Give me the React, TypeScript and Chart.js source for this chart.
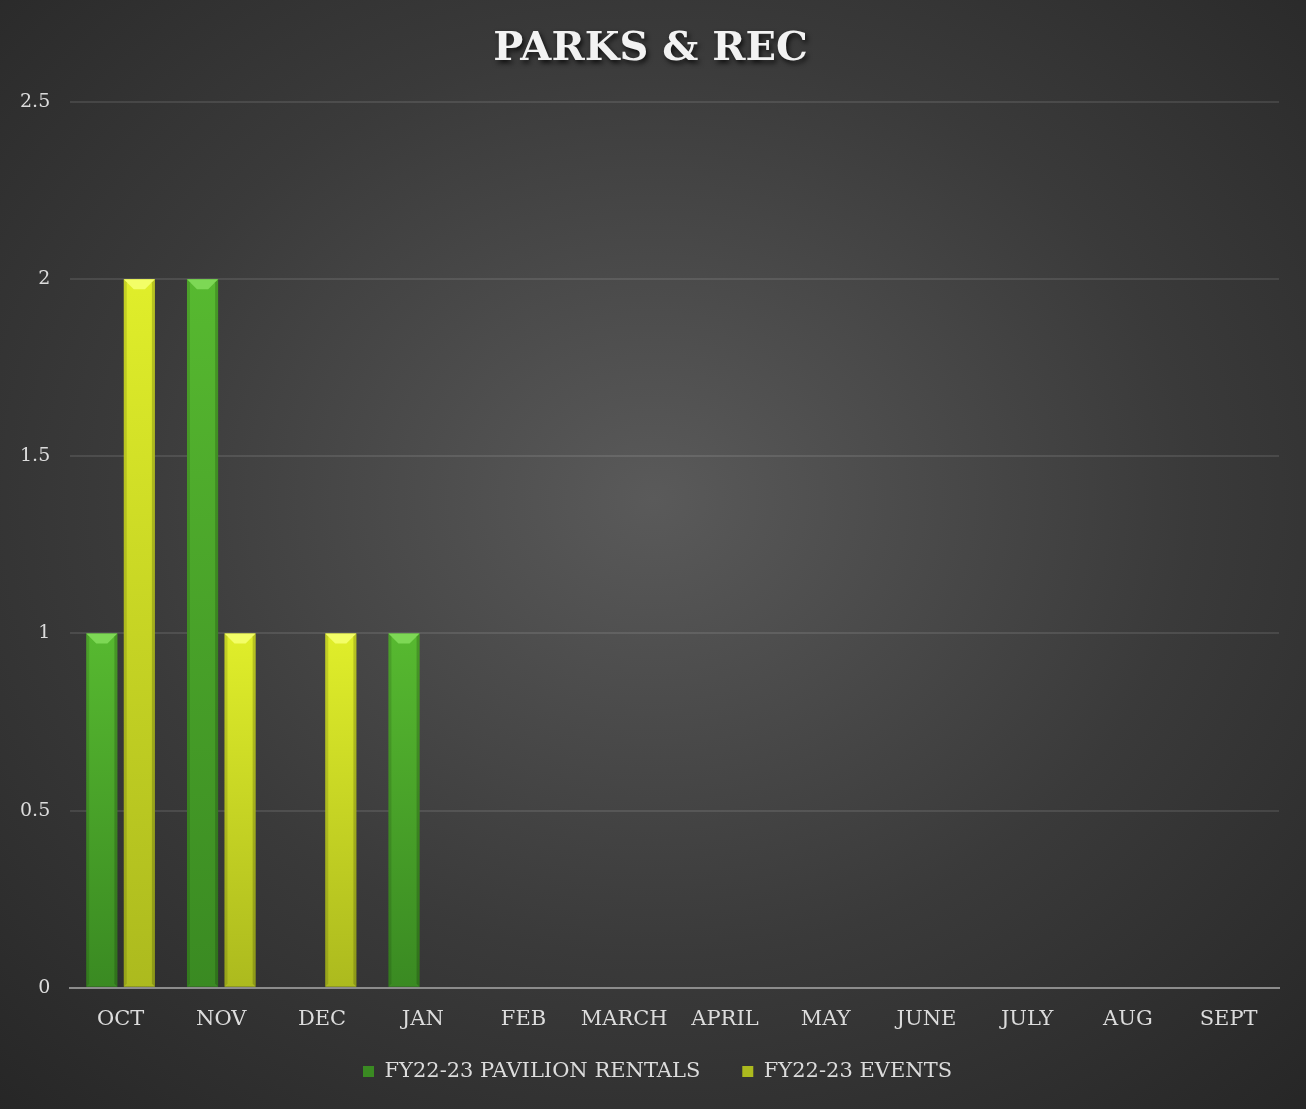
import React, { useEffect, useRef } from "react";
import { Chart, registerables } from "chart.js";

Chart.register(...registerables);

const categories = ["OCT", "NOV", "DEC", "JAN", "FEB", "MARCH", "APRIL", "MAY", "JUNE", "JULY", "AUG", "SEPT"];
const pavilionRentals = [1, 2, 0, 1, 0, 0, 0, 0, 0, 0, 0, 0];
const events = [2, 1, 1, 0, 0, 0, 0, 0, 0, 0, 0, 0];
const seriesNames = ["FY22-23 PAVILION RENTALS", "FY22-23 EVENTS"];

const FONT = "'DejaVu Serif', 'Liberation Serif', serif";

const bevelPlugin = {
  id: "bevel",
  afterInit(chart: any) {
    const tb = chart.titleBlock;
    if (tb && !tb.__shadowed) {
      const orig = tb.draw.bind(tb);
      tb.draw = (...args: any[]) => {
        const ctx = chart.ctx;
        ctx.save();
        ctx.shadowColor = "rgba(0,0,0,0.75)";
        ctx.shadowBlur = 5;
        ctx.shadowOffsetX = 2;
        ctx.shadowOffsetY = 3;
        orig(...args);
        ctx.restore();
      };
      tb.__shadowed = true;
    }
  },
  beforeDraw(chart: any) {
    // let the x tick labels draw below the shortened axis box
    const xs = chart.scales.x;
    if (xs) xs.bottom = xs.top + 60;
    // centre title and legend on the full canvas width
    const tb = chart.titleBlock;
    if (tb) {
      tb.left += 11;
      tb.right += 11;
    }
    const lg = chart.legend;
    if (lg) {
      lg.left += 18;
      lg.right += 18;
    }
  },
  afterDatasetsDraw(chart: any) {
    const ctx = chart.ctx;
    const tops = ["rgba(130,220,90,0.9)", "rgba(245,255,110,0.9)"];
    chart.data.datasets.forEach((_: any, di: number) => {
      const meta = chart.getDatasetMeta(di);
      meta.data.forEach((bar: any) => {
        const { x, y, base, width } = bar.getProps(["x", "y", "base", "width"], true);
        const h = base - y;
        if (h < 2) return;
        const l = x - width / 2;
        const r = x + width / 2;
        const d = Math.min(10, width / 3);
        ctx.save();
        ctx.fillStyle = tops[di];
        ctx.beginPath();
        ctx.moveTo(l, y);
        ctx.lineTo(r, y);
        ctx.lineTo(r - d, y + d);
        ctx.lineTo(l + d, y + d);
        ctx.closePath();
        ctx.fill();
        ctx.fillStyle = "rgba(0,0,0,0.18)";
        ctx.beginPath();
        ctx.moveTo(r, y);
        ctx.lineTo(r, base);
        ctx.lineTo(r - 3, base - 3);
        ctx.lineTo(r - 3, y + 3);
        ctx.closePath();
        ctx.fill();
        ctx.fillStyle = "rgba(0,0,0,0.12)";
        ctx.beginPath();
        ctx.moveTo(l, y);
        ctx.lineTo(l, base);
        ctx.lineTo(l + 3, base - 3);
        ctx.lineTo(l + 3, y + 3);
        ctx.closePath();
        ctx.fill();
        ctx.restore();
      });
    });
  },
};

function barGradient(c: any, top: string, bottom: string) {
  const chart = c.chart;
  const area = chart.chartArea;
  const ys = chart.scales && chart.scales.y;
  if (!area || !ys || c.type !== "data") return top;
  const yTop = ys.getPixelForValue(c.raw || 0);
  const yBase = ys.getPixelForValue(0);
  if (!isFinite(yTop) || yBase - yTop < 1) return top;
  const g = chart.ctx.createLinearGradient(0, yTop, 0, yBase);
  g.addColorStop(0, top);
  g.addColorStop(1, bottom);
  return g;
}

export default function App() {
  const ref = useRef<HTMLCanvasElement>(null);

  useEffect(() => {
    document.body.style.margin = "0";
    const canvas = ref.current!;
    const chart = new Chart(canvas, {
      type: "bar",
      data: {
        labels: categories,
        datasets: [
          {
            label: seriesNames[0],
            data: pavilionRentals,
            backgroundColor: (c: any) => barGradient(c, "#57b930", "#3a8a22"),
            borderWidth: 0,
            categoryPercentage: 0.745,
            barPercentage: 0.83,
          },
          {
            label: seriesNames[1],
            data: events,
            backgroundColor: (c: any) => barGradient(c, "#e0ee2a", "#acba1e"),
            borderWidth: 0,
            categoryPercentage: 0.745,
            barPercentage: 0.83,
          },
        ],
      },
      options: {
        animation: false,
        responsive: false,
        maintainAspectRatio: false,
        layout: { padding: { left: 0, right: 27, top: 6, bottom: 17 } },
        plugins: {
          title: {
            display: true,
            text: "PARKS & REC",
            color: "#f2f2f2",
            font: { family: FONT, size: 40, weight: "bold" },
            padding: { top: 20, bottom: 28 },
          },
          legend: {
            position: "bottom",
            labels: {
              color: "#dcdcdc",
              font: { family: FONT, size: 21 },
              boxWidth: 11,
              boxHeight: 11,
              padding: 42,
            },
          },
          tooltip: { enabled: false },
        },
        scales: {
          x: {
            grid: { display: false },
            border: { display: true, color: "#8c8c8c", width: 2 },
            ticks: { color: "#dcdcdc", font: { family: FONT, size: 21 }, padding: 11 },
            afterFit: (s: any) => {
              s.height = s.height - 24;
            },
          },
          y: {
            min: 0,
            max: 2.5,
            ticks: {
              stepSize: 0.5,
              color: "#dcdcdc",
              font: { family: FONT, size: 19 },
              padding: 20,
              callback: (v: any) => String(v),
            },
            grid: { color: "rgba(255,255,255,0.1)", lineWidth: 2, drawTicks: false },
            border: { display: false },
          },
        },
      },
      plugins: [bevelPlugin],
    });
    return () => chart.destroy();
  }, []);

  return (
    <div
      style={{
        position: "fixed",
        left: 0,
        top: 0,
        width: 1306,
        height: 1109,
        background: "radial-gradient(ellipse 75% 75% at 50% 45%, #5a5a5a 0%, #3a3a3a 55%, #262626 100%)",
      }}
    >
      <canvas ref={ref} width={1306} height={1109} style={{ width: 1306, height: 1109, display: "block" }} />
    </div>
  );
}
